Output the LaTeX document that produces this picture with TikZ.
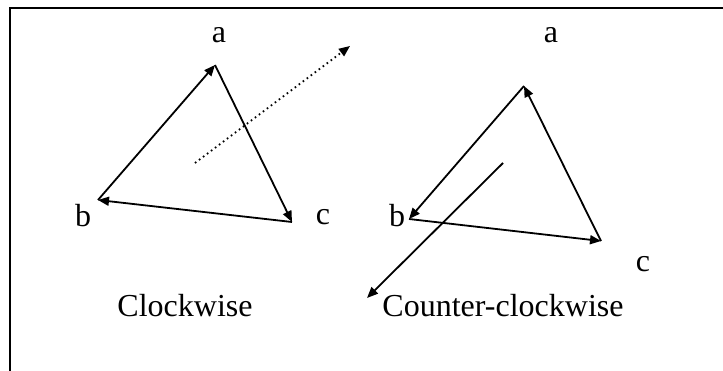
\documentclass[tikz,border=0pt]{standalone}
\usepackage{fontspec}
\setmainfont{Liberation Serif}
\usetikzlibrary{arrows.meta}
\begin{document}
\begin{tikzpicture}[x=1pt,y=-1pt,
  edge/.style={line width=1.8pt,-{Triangle[length=11pt,width=9pt]}},
  dotarrow/.style={line width=1.8pt,dash pattern=on 1.6pt off 3.4pt,-{Triangle[length=11pt,width=9pt]}},
  lab/.style={inner sep=0pt,anchor=base,font=\fontsize{32}{32}\selectfont}]
\useasboundingbox (0,0) rectangle (723,371);
\draw[line width=2pt] (9.5,371) -- (9.5,8.5) -- (723,8.5);
% left triangle (clockwise)
\coordinate (la) at (215,65);
\coordinate (lb) at (98,200);
\coordinate (lc) at (292,222);
\draw[edge] (lb) -- (la);
\draw[edge] (la) -- (lc);
\draw[edge] (lc) -- (lb);
\coordinate (ds) at (195,163);
\coordinate (de) at (350,46);
\draw[dotarrow] (ds) -- (de);
\node[lab] (tla) at (219,43) {a};
\node[lab] (tlb) at (83,227) {b};
\node[lab] (tlc) at (323,225) {c};
\node[lab] (tcw) at (185,317) {Clockwise};
% right triangle (counter-clockwise)
\coordinate (ra) at (524,86);
\coordinate (rb) at (409,219);
\coordinate (rc) at (601,241);
\draw[edge] (ra) -- (rb);
\draw[edge] (rb) -- (rc);
\draw[edge] (rc) -- (ra);
\coordinate (ns) at (503,163);
\coordinate (ne) at (367,298);
\draw[edge] (ns) -- (ne);
\node[lab] (tra) at (551,43) {a};
\node[lab] (trb) at (397,227) {b};
\node[lab] (trc) at (643,272) {c};
\node[lab] (tccw) at (503,317) {Counter-clockwise};
\end{tikzpicture}
\end{document}
